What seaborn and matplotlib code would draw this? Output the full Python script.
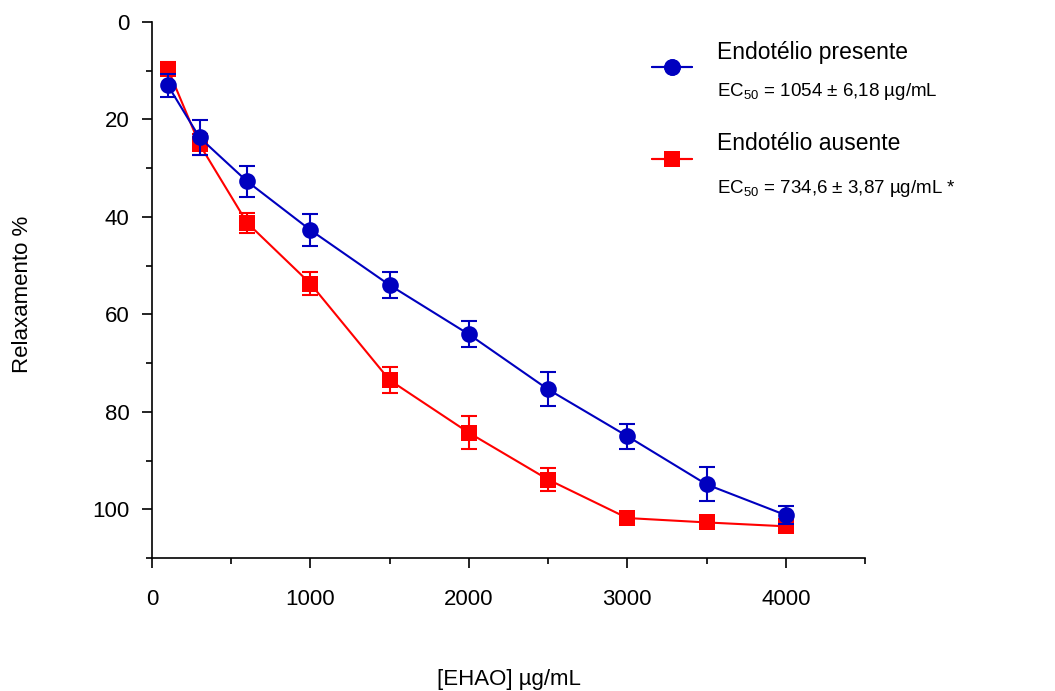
import matplotlib
matplotlib.use("Agg")
import matplotlib.pyplot as plt
from matplotlib.ticker import MultipleLocator, FixedLocator
from matplotlib.lines import Line2D
import seaborn as sns
import pandas as pd

# ---- data ----
conc = [100, 300, 600, 1000, 1500, 2000, 2500, 3000, 3500, 4000]
presente = [13.0, 23.7, 32.7, 42.7, 54.0, 64.1, 75.4, 85.0, 94.9, 101.2]
presente_err = [2.4, 3.5, 3.2, 3.2, 2.7, 2.7, 3.5, 2.6, 3.5, 1.9]
ausente = [9.6, 25.1, 41.2, 53.7, 73.5, 84.3, 93.9, 101.8, 102.7, 103.5]
ausente_err = [1.3, 2.2, 2.0, 2.4, 2.6, 3.4, 2.4, 0.5, 0.5, 0.5]
label_presente = "Endotélio presente"
label_ausente = "Endotélio ausente"
ec50_presente = "EC$_{\\mathregular{50}}$ = 1054 ± 6,18 µg/mL"
ec50_ausente = "EC$_{\\mathregular{50}}$ = 734,6 ± 3,87 µg/mL *"
xticks = [0, 1000, 2000, 3000, 4000]
yticks = [0, 20, 40, 60, 80, 100]

BLUE = "#0000BF"
RED = "#FF0000"

sns.set_theme(style="ticks")
plt.rcParams["font.family"] = ["Liberation Sans", "DejaVu Sans"]
plt.rcParams["mathtext.fontset"] = "custom"
plt.rcParams["mathtext.rm"] = "Liberation Sans"
plt.rcParams["text.color"] = "black"
plt.rcParams["axes.labelcolor"] = "black"
plt.rcParams["xtick.color"] = "black"
plt.rcParams["ytick.color"] = "black"

W, H = 1055, 691
fig = plt.figure(figsize=(W / 100, H / 100), dpi=100)
ax = fig.add_axes([152 / W, 1 - 558 / H, (865 - 152) / W, (558 - 22) / H])

df = pd.DataFrame({
    "conc": conc * 2,
    "val": ausente + presente,
    "grupo": [label_ausente] * len(conc) + [label_presente] * len(conc),
})

# error bars
ax.errorbar(conc, ausente, yerr=ausente_err, fmt="none", ecolor=RED,
            elinewidth=1.5, capsize=5.5, capthick=1.5, zorder=2, clip_on=False)
ax.errorbar(conc, presente, yerr=presente_err, fmt="none", ecolor=BLUE,
            elinewidth=1.5, capsize=5.5, capthick=1.5, zorder=4, clip_on=False)

sns.lineplot(data=df[df.grupo == label_ausente], x="conc", y="val", color=RED,
             marker="s", markersize=11, markeredgewidth=0, linewidth=1.5,
             ax=ax, zorder=3, clip_on=False, legend=False)
sns.lineplot(data=df[df.grupo == label_presente], x="conc", y="val", color=BLUE,
             marker="o", markersize=12, markeredgewidth=0, linewidth=1.5,
             ax=ax, zorder=5, clip_on=False, legend=False)

ax.set_xlim(0, 4500)
ax.set_ylim(110, 0)
ax.xaxis.set_major_locator(FixedLocator(xticks))
ax.xaxis.set_minor_locator(MultipleLocator(500))
ax.yaxis.set_major_locator(FixedLocator(yticks))
ax.yaxis.set_minor_locator(MultipleLocator(10))
ax.set_xticklabels([str(t) for t in xticks])
ax.set_yticklabels([str(t) for t in yticks])

for s in ["top", "right"]:
    ax.spines[s].set_visible(False)
for s in ["left", "bottom"]:
    ax.spines[s].set_linewidth(1.2)
    ax.spines[s].set_color("black")

ax.tick_params(axis="both", which="major", length=7.2, width=1.2, color="black",
               labelsize=16, labelcolor="black")
ax.tick_params(axis="both", which="minor", length=4.3, width=1.2, color="black")
ax.tick_params(axis="x", which="major", pad=15)
ax.tick_params(axis="y", which="major", pad=9)

ax.set_xlabel("[EHAO] µg/mL", fontsize=16, va="center", color="black")
ax.set_ylabel("Relaxamento %", fontsize=16, va="center", color="black")
ax.xaxis.set_label_coords(0.5, (558 - 680) / 536)
ax.yaxis.set_label_coords((22 - 152) / 713, (558 - 294) / 536)

# legend handles
for (yy, col, mk, ms) in [(68, BLUE, "o", 12), (160, RED, "s", 11)]:
    h = Line2D([], [], color=col, marker=mk, markersize=ms, markeredgewidth=0,
               linewidth=1.5)
    leg = fig.legend(handles=[h], labels=[""], loc="center",
                     bbox_to_anchor=(672 / W, 1 - yy / H), frameon=False,
                     handlelength=2.9, handletextpad=0, borderpad=0,
                     borderaxespad=0, fontsize=10)
    fig.add_artist(leg)

fig.text(717 / W, 1 - 52 / H, label_presente, fontsize=16.5, va="center", ha="left")
fig.text(717 / W, 1 - 91 / H, ec50_presente, fontsize=13.5, va="center", ha="left")
fig.text(717 / W, 1 - 143 / H, label_ausente, fontsize=16.5, va="center", ha="left")
fig.text(717 / W, 1 - 189 / H, ec50_ausente, fontsize=13.5, va="center", ha="left")

fig.savefig("out.png", dpi=100)
